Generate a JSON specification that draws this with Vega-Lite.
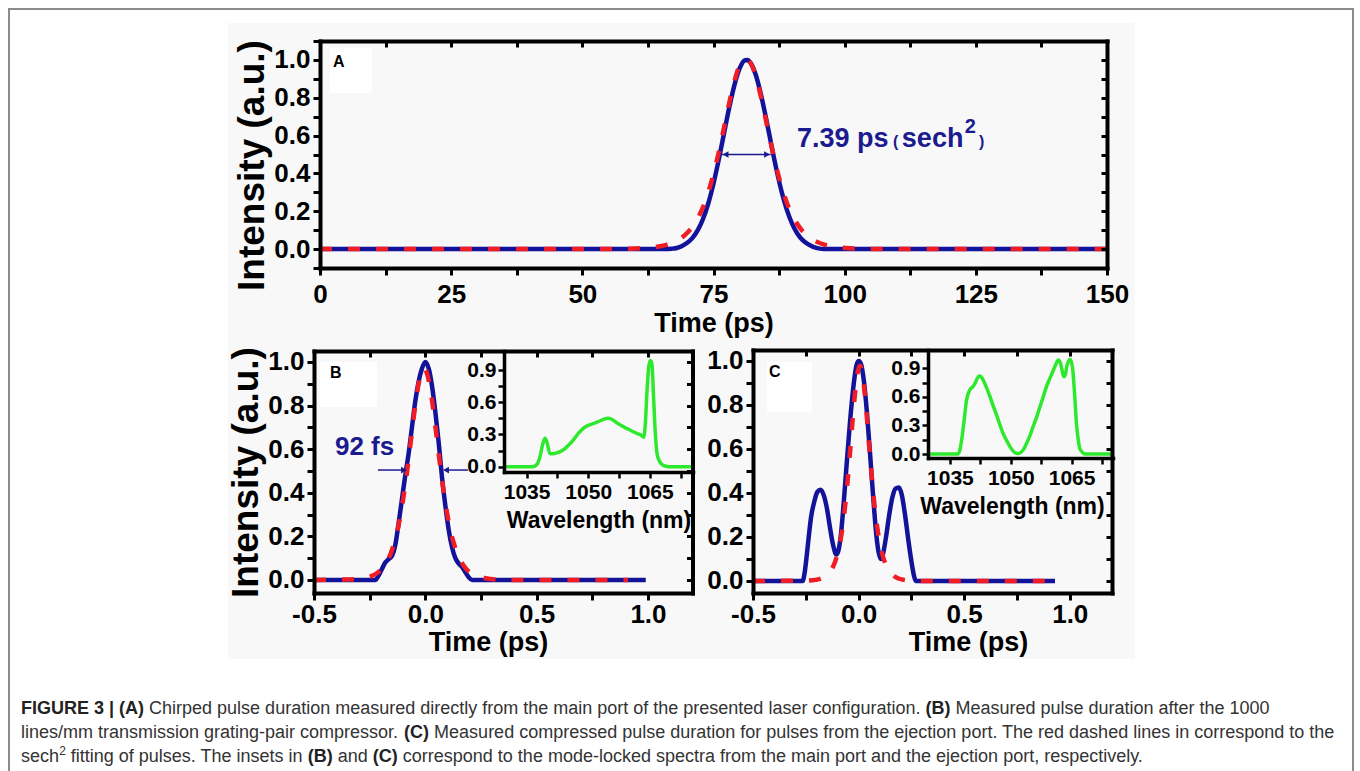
{
"$schema": "https://vega.github.io/schema/vega-lite/v6.json",
"width": 1360, "height": 771, "autosize": "none", "padding": 0,
"background": "white",
"data": {"values": [{}]},
"config": {
 "view": {"stroke": null},
 "text": {"font": "Liberation Sans"},
 "axis": {"labelFont": "Liberation Sans", "titleFont": "Liberation Sans", "labelFontWeight": "bold", "titleFontWeight": "bold", "labelColor": "#000", "titleColor": "#000", "domainColor": "#000", "tickColor": "#000", "grid": false, "labelFlush": false, "labelOverlap": false, "domainCap": "square"}
},
"datasets": {
 "pulseA": [
  {"t":0,"I":0,"c":"m"},{"t":20,"I":0,"c":"m"},{"t":40,"I":0,"c":"m"},{"t":60,"I":0,"c":"m"},{"t":66,"I":0,"c":"m"},{"t":67,"I":0.002,"c":"m"},{"t":68,"I":0.006,"c":"m"},{"t":69,"I":0.016,"c":"m"},{"t":70,"I":0.033,"c":"m"},{"t":71,"I":0.059,"c":"m"},{"t":72,"I":0.1,"c":"m"},{"t":73,"I":0.159,"c":"m"},{"t":74,"I":0.241,"c":"m"},{"t":75,"I":0.347,"c":"m"},{"t":76,"I":0.473,"c":"m"},{"t":77,"I":0.611,"c":"m"},{"t":78,"I":0.748,"c":"m"},{"t":79,"I":0.868,"c":"m"},{"t":80,"I":0.956,"c":"m"},{"t":81,"I":0.998,"c":"m"},{"t":81.5,"I":0.999,"c":"m"},{"t":82,"I":0.987,"c":"m"},{"t":83,"I":0.926,"c":"m"},{"t":84,"I":0.823,"c":"m"},{"t":85,"I":0.694,"c":"m"},{"t":86,"I":0.555,"c":"m"},{"t":87,"I":0.42,"c":"m"},{"t":88,"I":0.302,"c":"m"},{"t":89,"I":0.206,"c":"m"},{"t":90,"I":0.133,"c":"m"},{"t":91,"I":0.081,"c":"m"},{"t":92,"I":0.047,"c":"m"},{"t":93,"I":0.026,"c":"m"},{"t":94,"I":0.012,"c":"m"},{"t":95,"I":0.004,"c":"m"},{"t":96,"I":0,"c":"m"},{"t":110,"I":0,"c":"m"},{"t":130,"I":0,"c":"m"},{"t":150,"I":0,"c":"m"},
  {"t":0,"I":0,"c":"f"},{"t":20,"I":0,"c":"f"},{"t":40,"I":0,"c":"f"},{"t":55,"I":0,"c":"f"},{"t":57,"I":0.001,"c":"f"},{"t":59,"I":0.002,"c":"f"},{"t":61,"I":0.004,"c":"f"},{"t":63,"I":0.008,"c":"f"},{"t":65,"I":0.016,"c":"f"},{"t":66,"I":0.022,"c":"f"},{"t":67,"I":0.031,"c":"f"},{"t":68,"I":0.044,"c":"f"},{"t":69,"I":0.061,"c":"f"},{"t":70,"I":0.086,"c":"f"},{"t":71,"I":0.119,"c":"f"},{"t":72,"I":0.164,"c":"f"},{"t":73,"I":0.222,"c":"f"},{"t":74,"I":0.301,"c":"f"},{"t":75,"I":0.398,"c":"f"},{"t":76,"I":0.512,"c":"f"},{"t":77,"I":0.641,"c":"f"},{"t":78,"I":0.773,"c":"f"},{"t":79,"I":0.889,"c":"f"},{"t":80,"I":0.971,"c":"f"},{"t":81.3,"I":1.0,"c":"f"},{"t":82,"I":0.986,"c":"f"},{"t":83,"I":0.919,"c":"f"},{"t":84,"I":0.81,"c":"f"},{"t":85,"I":0.681,"c":"f"},{"t":86,"I":0.55,"c":"f"},{"t":87,"I":0.431,"c":"f"},{"t":88,"I":0.328,"c":"f"},{"t":89,"I":0.244,"c":"f"},{"t":90,"I":0.179,"c":"f"},{"t":91,"I":0.131,"c":"f"},{"t":92,"I":0.094,"c":"f"},{"t":93,"I":0.068,"c":"f"},{"t":94,"I":0.048,"c":"f"},{"t":95,"I":0.035,"c":"f"},{"t":96,"I":0.025,"c":"f"},{"t":97,"I":0.018,"c":"f"},{"t":99,"I":0.009,"c":"f"},{"t":101,"I":0.004,"c":"f"},{"t":103,"I":0.002,"c":"f"},{"t":106,"I":0,"c":"f"},{"t":130,"I":0,"c":"f"},{"t":150,"I":0,"c":"f"}
 ],
 "pulseB": [
  {"t":-0.5,"I":0,"c":"m"},{"t":-0.3,"I":0,"c":"m"},{"t":-0.225,"I":0,"c":"m"},{"t":-0.21,"I":0.02,"c":"m"},{"t":-0.195,"I":0.05,"c":"m"},{"t":-0.18,"I":0.08,"c":"m"},{"t":-0.165,"I":0.095,"c":"m"},{"t":-0.15,"I":0.11,"c":"m"},{"t":-0.135,"I":0.16,"c":"m"},{"t":-0.12,"I":0.26,"c":"m"},{"t":-0.105,"I":0.37,"c":"m"},{"t":-0.09,"I":0.48,"c":"m"},{"t":-0.075,"I":0.58,"c":"m"},{"t":-0.06,"I":0.7,"c":"m"},{"t":-0.045,"I":0.82,"c":"m"},{"t":-0.03,"I":0.91,"c":"m"},{"t":-0.015,"I":0.97,"c":"m"},{"t":0,"I":1.0,"c":"m"},{"t":0.015,"I":0.97,"c":"m"},{"t":0.03,"I":0.89,"c":"m"},{"t":0.045,"I":0.77,"c":"m"},{"t":0.06,"I":0.63,"c":"m"},{"t":0.075,"I":0.47,"c":"m"},{"t":0.09,"I":0.34,"c":"m"},{"t":0.105,"I":0.23,"c":"m"},{"t":0.12,"I":0.15,"c":"m"},{"t":0.135,"I":0.1,"c":"m"},{"t":0.15,"I":0.075,"c":"m"},{"t":0.165,"I":0.06,"c":"m"},{"t":0.18,"I":0.035,"c":"m"},{"t":0.195,"I":0.012,"c":"m"},{"t":0.21,"I":0,"c":"m"},{"t":0.5,"I":0,"c":"m"},{"t":0.99,"I":0,"c":"m"},
  {"t":-0.5,"I":0,"c":"f"},{"t":-0.35,"I":0.002,"c":"f"},{"t":-0.306,"I":0.004,"c":"f"},{"t":-0.276,"I":0.0085,"c":"f"},{"t":-0.246,"I":0.0164,"c":"f"},{"t":-0.216,"I":0.032,"c":"f"},{"t":-0.186,"I":0.063,"c":"f"},{"t":-0.156,"I":0.12,"c":"f"},{"t":-0.141,"I":0.165,"c":"f"},{"t":-0.126,"I":0.222,"c":"f"},{"t":-0.111,"I":0.299,"c":"f"},{"t":-0.096,"I":0.394,"c":"f"},{"t":-0.081,"I":0.504,"c":"f"},{"t":-0.066,"I":0.628,"c":"f"},{"t":-0.051,"I":0.755,"c":"f"},{"t":-0.036,"I":0.865,"c":"f"},{"t":-0.021,"I":0.942,"c":"f"},{"t":-0.006,"I":0.97,"c":"f"},{"t":0.009,"I":0.942,"c":"f"},{"t":0.024,"I":0.865,"c":"f"},{"t":0.039,"I":0.755,"c":"f"},{"t":0.054,"I":0.628,"c":"f"},{"t":0.069,"I":0.504,"c":"f"},{"t":0.084,"I":0.394,"c":"f"},{"t":0.099,"I":0.299,"c":"f"},{"t":0.114,"I":0.222,"c":"f"},{"t":0.129,"I":0.165,"c":"f"},{"t":0.144,"I":0.12,"c":"f"},{"t":0.174,"I":0.063,"c":"f"},{"t":0.204,"I":0.032,"c":"f"},{"t":0.234,"I":0.0164,"c":"f"},{"t":0.264,"I":0.0085,"c":"f"},{"t":0.294,"I":0.004,"c":"f"},{"t":0.34,"I":0.0015,"c":"f"},{"t":0.4,"I":0,"c":"f"},{"t":0.91,"I":0,"c":"f"}
 ],
 "pulseC": [
  {"t":-0.5,"I":0,"c":"m"},{"t":-0.265,"I":0,"c":"m"},{"t":-0.255,"I":0.04,"c":"m"},{"t":-0.245,"I":0.12,"c":"m"},{"t":-0.235,"I":0.21,"c":"m"},{"t":-0.225,"I":0.29,"c":"m"},{"t":-0.21,"I":0.36,"c":"m"},{"t":-0.195,"I":0.405,"c":"m"},{"t":-0.18,"I":0.415,"c":"m"},{"t":-0.165,"I":0.39,"c":"m"},{"t":-0.15,"I":0.33,"c":"m"},{"t":-0.135,"I":0.24,"c":"m"},{"t":-0.12,"I":0.16,"c":"m"},{"t":-0.105,"I":0.12,"c":"m"},{"t":-0.095,"I":0.14,"c":"m"},{"t":-0.085,"I":0.2,"c":"m"},{"t":-0.07,"I":0.36,"c":"m"},{"t":-0.055,"I":0.55,"c":"m"},{"t":-0.04,"I":0.73,"c":"m"},{"t":-0.025,"I":0.88,"c":"m"},{"t":-0.01,"I":0.98,"c":"m"},{"t":0,"I":1.0,"c":"m"},{"t":0.01,"I":0.99,"c":"m"},{"t":0.025,"I":0.91,"c":"m"},{"t":0.04,"I":0.76,"c":"m"},{"t":0.055,"I":0.57,"c":"m"},{"t":0.07,"I":0.37,"c":"m"},{"t":0.085,"I":0.2,"c":"m"},{"t":0.095,"I":0.13,"c":"m"},{"t":0.105,"I":0.1,"c":"m"},{"t":0.115,"I":0.12,"c":"m"},{"t":0.13,"I":0.2,"c":"m"},{"t":0.145,"I":0.3,"c":"m"},{"t":0.16,"I":0.38,"c":"m"},{"t":0.175,"I":0.42,"c":"m"},{"t":0.19,"I":0.425,"c":"m"},{"t":0.205,"I":0.39,"c":"m"},{"t":0.22,"I":0.3,"c":"m"},{"t":0.235,"I":0.19,"c":"m"},{"t":0.25,"I":0.09,"c":"m"},{"t":0.262,"I":0.025,"c":"m"},{"t":0.27,"I":0,"c":"m"},{"t":0.5,"I":0,"c":"m"},{"t":0.93,"I":0,"c":"m"},
  {"t":-0.5,"I":0,"c":"f"},{"t":-0.28,"I":0.0005,"c":"f"},{"t":-0.234,"I":0.0018,"c":"f"},{"t":-0.204,"I":0.0048,"c":"f"},{"t":-0.174,"I":0.012,"c":"f"},{"t":-0.144,"I":0.031,"c":"f"},{"t":-0.129,"I":0.05,"c":"f"},{"t":-0.114,"I":0.08,"c":"f"},{"t":-0.099,"I":0.127,"c":"f"},{"t":-0.084,"I":0.195,"c":"f"},{"t":-0.069,"I":0.297,"c":"f"},{"t":-0.054,"I":0.433,"c":"f"},{"t":-0.039,"I":0.603,"c":"f"},{"t":-0.024,"I":0.78,"c":"f"},{"t":-0.009,"I":0.921,"c":"f"},{"t":0.006,"I":0.978,"c":"f"},{"t":0.021,"I":0.921,"c":"f"},{"t":0.036,"I":0.78,"c":"f"},{"t":0.051,"I":0.603,"c":"f"},{"t":0.066,"I":0.433,"c":"f"},{"t":0.081,"I":0.297,"c":"f"},{"t":0.096,"I":0.195,"c":"f"},{"t":0.111,"I":0.127,"c":"f"},{"t":0.126,"I":0.08,"c":"f"},{"t":0.141,"I":0.05,"c":"f"},{"t":0.156,"I":0.031,"c":"f"},{"t":0.186,"I":0.012,"c":"f"},{"t":0.216,"I":0.0048,"c":"f"},{"t":0.246,"I":0.0018,"c":"f"},{"t":0.3,"I":0,"c":"f"},{"t":0.93,"I":0,"c":"f"}
 ],
 "specB": [
  {"w":1029.5,"I":0},{"w":1036.5,"I":0},{"w":1037.5,"I":0.02},{"w":1038.3,"I":0.1},{"w":1039.0,"I":0.22},{"w":1039.5,"I":0.265},{"w":1040.0,"I":0.22},{"w":1040.7,"I":0.12},{"w":1041.5,"I":0.12},{"w":1042.5,"I":0.13},{"w":1043.9,"I":0.155},{"w":1045.2,"I":0.2},{"w":1046.4,"I":0.25},{"w":1047.6,"I":0.31},{"w":1048.8,"I":0.357},{"w":1050,"I":0.385},{"w":1051.2,"I":0.4},{"w":1052.5,"I":0.42},{"w":1053.7,"I":0.44},{"w":1054.9,"I":0.45},{"w":1056,"I":0.435},{"w":1056.9,"I":0.41},{"w":1058,"I":0.385},{"w":1059.3,"I":0.357},{"w":1060.5,"I":0.335},{"w":1061.8,"I":0.31},{"w":1062.5,"I":0.3},{"w":1063,"I":0.29},{"w":1063.5,"I":0.275},{"w":1063.9,"I":0.4},{"w":1064.3,"I":0.7},{"w":1064.7,"I":0.92},{"w":1065.1,"I":0.99},{"w":1065.5,"I":0.96},{"w":1065.9,"I":0.65},{"w":1066.3,"I":0.33},{"w":1066.8,"I":0.11},{"w":1067.5,"I":0.04},{"w":1068.3,"I":0.012},{"w":1069.5,"I":0},{"w":1075.5,"I":0}
 ],
 "specC": [
  {"w":1029.6,"I":0},{"w":1037.0,"I":0},{"w":1037.5,"I":0.05},{"w":1037.9,"I":0.15},{"w":1038.5,"I":0.35},{"w":1039.1,"I":0.567},{"w":1039.9,"I":0.672},{"w":1040.5,"I":0.7},{"w":1041.2,"I":0.742},{"w":1041.7,"I":0.79},{"w":1042.2,"I":0.82},{"w":1042.7,"I":0.81},{"w":1043.2,"I":0.777},{"w":1044,"I":0.7},{"w":1044.9,"I":0.6},{"w":1045.7,"I":0.5},{"w":1046.5,"I":0.41},{"w":1047.3,"I":0.31},{"w":1048.1,"I":0.217},{"w":1049,"I":0.14},{"w":1049.8,"I":0.077},{"w":1050.6,"I":0.03},{"w":1051.4,"I":0.007},{"w":1052,"I":0.005},{"w":1052.7,"I":0.025},{"w":1053.3,"I":0.06},{"w":1053.9,"I":0.112},{"w":1054.7,"I":0.19},{"w":1055.5,"I":0.287},{"w":1056.4,"I":0.39},{"w":1057.2,"I":0.497},{"w":1058,"I":0.6},{"w":1058.8,"I":0.707},{"w":1059.7,"I":0.8},{"w":1060.5,"I":0.88},{"w":1061.2,"I":0.95},{"w":1061.7,"I":0.987},{"w":1062.3,"I":0.95},{"w":1062.7,"I":0.87},{"w":1063.1,"I":0.81},{"w":1063.5,"I":0.84},{"w":1063.8,"I":0.917},{"w":1064.2,"I":0.97},{"w":1064.6,"I":0.994},{"w":1065.2,"I":0.917},{"w":1065.7,"I":0.65},{"w":1066.2,"I":0.32},{"w":1066.6,"I":0.16},{"w":1067,"I":0.06},{"w":1067.6,"I":0.02},{"w":1068.3,"I":0},{"w":1075.2,"I":0}
 ]
},
"layer": [
 {
  "layer": [
   {"mark": {"type": "rect", "color": "#f8f8f8"},
    "encoding": {"x": {"datum": 228, "type": "quantitative", "scale": {"domain": [0, 1360], "range": [0, 1360], "nice": false, "zero": false}, "axis": null}, "x2": {"datum": 1135}, "y": {"datum": 23, "type": "quantitative", "scale": {"domain": [0, 771], "range": [0, 771], "nice": false, "zero": false}, "axis": null}, "y2": {"datum": 659}}},
   {"mark": {"type": "rect", "filled": false, "color": "#8c8c8c", "strokeWidth": 2},
    "encoding": {"x": {"datum": 9, "type": "quantitative", "axis": null}, "x2": {"datum": 1353}, "y": {"datum": 9, "type": "quantitative", "axis": null}, "y2": {"datum": 800}}},
   {"mark": {"type": "text", "text": "FIGURE 3 | (A)", "align": "left", "baseline": "alphabetic", "fontSize": 18, "fontWeight": "bold", "color": "#222"}, "encoding": {"x": {"datum": 21, "type": "quantitative", "axis": null}, "y": {"datum": 714, "type": "quantitative", "axis": null}}},
   {"mark": {"type": "text", "text": "Chirped pulse duration measured directly from the main port of the presented laser configuration.", "align": "left", "baseline": "alphabetic", "fontSize": 18, "color": "#333"}, "encoding": {"x": {"datum": 149.05, "type": "quantitative", "axis": null}, "y": {"datum": 714, "type": "quantitative", "axis": null}}},
   {"mark": {"type": "text", "text": "(B)", "align": "left", "baseline": "alphabetic", "fontSize": 18, "fontWeight": "bold", "color": "#222"}, "encoding": {"x": {"datum": 925.4, "type": "quantitative", "axis": null}, "y": {"datum": 714, "type": "quantitative", "axis": null}}},
   {"mark": {"type": "text", "text": "Measured pulse duration after the 1000", "align": "left", "baseline": "alphabetic", "fontSize": 18, "color": "#333"}, "encoding": {"x": {"datum": 955.4, "type": "quantitative", "axis": null}, "y": {"datum": 714, "type": "quantitative", "axis": null}}},
   {"mark": {"type": "text", "text": "lines/mm transmission grating-pair compressor.", "align": "left", "baseline": "alphabetic", "fontSize": 18, "color": "#333"}, "encoding": {"x": {"datum": 21, "type": "quantitative", "axis": null}, "y": {"datum": 738, "type": "quantitative", "axis": null}}},
   {"mark": {"type": "text", "text": "(C)", "align": "left", "baseline": "alphabetic", "fontSize": 18, "fontWeight": "bold", "color": "#222"}, "encoding": {"x": {"datum": 404.1, "type": "quantitative", "axis": null}, "y": {"datum": 738, "type": "quantitative", "axis": null}}},
   {"mark": {"type": "text", "text": "Measured compressed pulse duration for pulses from the ejection port. The red dashed lines in correspond to the", "align": "left", "baseline": "alphabetic", "fontSize": 18, "color": "#333"}, "encoding": {"x": {"datum": 434.1, "type": "quantitative", "axis": null}, "y": {"datum": 738, "type": "quantitative", "axis": null}}},
   {"mark": {"type": "text", "text": "sech", "align": "left", "baseline": "alphabetic", "fontSize": 18, "color": "#333"}, "encoding": {"x": {"datum": 21, "type": "quantitative", "axis": null}, "y": {"datum": 762, "type": "quantitative", "axis": null}}},
   {"mark": {"type": "text", "text": "2", "align": "left", "baseline": "alphabetic", "fontSize": 12, "color": "#333"}, "encoding": {"x": {"datum": 59.2, "type": "quantitative", "axis": null}, "y": {"datum": 755, "type": "quantitative", "axis": null}}},
   {"mark": {"type": "text", "text": "fitting of pulses. The insets in", "align": "left", "baseline": "alphabetic", "fontSize": 18, "color": "#333"}, "encoding": {"x": {"datum": 70.7, "type": "quantitative", "axis": null}, "y": {"datum": 762, "type": "quantitative", "axis": null}}},
   {"mark": {"type": "text", "text": "(B)", "align": "left", "baseline": "alphabetic", "fontSize": 18, "fontWeight": "bold", "color": "#222"}, "encoding": {"x": {"datum": 307.8, "type": "quantitative", "axis": null}, "y": {"datum": 762, "type": "quantitative", "axis": null}}},
   {"mark": {"type": "text", "text": "and", "align": "left", "baseline": "alphabetic", "fontSize": 18, "color": "#333"}, "encoding": {"x": {"datum": 337.8, "type": "quantitative", "axis": null}, "y": {"datum": 762, "type": "quantitative", "axis": null}}},
   {"mark": {"type": "text", "text": "(C)", "align": "left", "baseline": "alphabetic", "fontSize": 18, "fontWeight": "bold", "color": "#222"}, "encoding": {"x": {"datum": 372.8, "type": "quantitative", "axis": null}, "y": {"datum": 762, "type": "quantitative", "axis": null}}},
   {"mark": {"type": "text", "text": "correspond to the mode-locked spectra from the main port and the ejection port, respectively.", "align": "left", "baseline": "alphabetic", "fontSize": 18, "color": "#333"}, "encoding": {"x": {"datum": 402.8, "type": "quantitative", "axis": null}, "y": {"datum": 762, "type": "quantitative", "axis": null}}}
  ]
 },
 {
  "layer": [
   {"data": {"name": "pulseA"}, "transform": [{"filter": "datum.c == 'm'"}],
    "mark": {"type": "line", "color": "#13139a", "strokeWidth": 4.5, "interpolate": "monotone"},
    "encoding": {
     "x": {"field": "t", "type": "quantitative", "scale": {"domain": [0, 150], "range": [320, 1107], "nice": false, "zero": false},
       "axis": {"zindex": 1, "orient": "bottom", "offset": -503, "values": [0,12.5,25,37.5,50,62.5,75,87.5,100,112.5,125,137.5,150], "format": "d", "labelExpr": "datum.value % 25 == 0 ? datum.label : ''", "labelFontSize": 26, "labelPadding": 6, "tickSize": 7, "tickWidth": 3, "domainWidth": 4, "title": "Time (ps)", "titleFontSize": 27, "titlePadding": 3}},
     "y": {"field": "I", "type": "quantitative", "scale": {"domain": [-0.1, 1.1], "range": [268, 41], "nice": false, "zero": false},
       "axis": {"zindex": 1, "orient": "left", "offset": -320, "values": [-0.1,0,0.1,0.2,0.3,0.4,0.5,0.6,0.7,0.8,0.9,1.0,1.1], "labelExpr": "datum.value >= -0.001 && datum.value <= 1.001 && round(datum.value*10) % 2 == 0 ? format(datum.value, '.1f') : ''", "labelFontSize": 26, "labelPadding": 3, "tickSize": 7, "tickWidth": 3, "domainWidth": 4, "title": "Intensity (a.u.)", "titleFontSize": 37, "titlePadding": 2, "titleY": 165}}
    }},
   {"data": {"name": "pulseA"}, "transform": [{"filter": "datum.c == 'f'"}],
    "mark": {"type": "line", "color": "#f21d24", "strokeWidth": 4.5, "strokeDash": [12, 16], "interpolate": "monotone"},
    "encoding": {"x": {"field": "t", "type": "quantitative", "axis": null}, "y": {"field": "I", "type": "quantitative", "axis": null}}},
   {"data": {"name": "pulseA"}, "mark": {"type": "point", "opacity": 0},
    "encoding": {
     "x": {"field": "t", "type": "quantitative", "axis": {"zindex": 1, "orient": "top", "offset": -41, "values": [12.5,25,37.5,50,62.5,75,87.5,100,112.5,125,137.5], "labels": false, "tickSize": -6, "tickWidth": 3, "domainWidth": 4, "title": null}},
     "y": {"field": "I", "type": "quantitative", "axis": {"zindex": 1, "orient": "right", "offset": -253, "values": [0,0.1,0.2,0.3,0.4,0.5,0.6,0.7,0.8,0.9,1.0], "labels": false, "tickSize": -6, "tickWidth": 3, "domainWidth": 4, "title": null}}
    }},
   {"mark": {"type": "rect", "color": "white"}, "encoding": {"x": {"datum": 1.9, "type": "quantitative", "axis": null}, "x2": {"datum": 9.9}, "y": {"datum": 1.063, "type": "quantitative", "axis": null}, "y2": {"datum": 0.825}}},
   {"mark": {"type": "text", "text": "A", "align": "left", "baseline": "middle", "fontSize": 16, "fontWeight": "bold", "color": "black"}, "encoding": {"x": {"datum": 2.5, "type": "quantitative", "axis": null}, "y": {"datum": 0.989, "type": "quantitative", "axis": null}}},
   {"mark": {"type": "rule", "color": "#1b1b8f", "strokeWidth": 1.5}, "encoding": {"x": {"datum": 76.6, "type": "quantitative", "axis": null}, "x2": {"datum": 85.9}, "y": {"datum": 0.5, "type": "quantitative", "axis": null}}},
   {"mark": {"type": "point", "shape": "triangle-left", "filled": true, "size": 45, "color": "#1b1b8f", "opacity": 1}, "encoding": {"x": {"datum": 77.3, "type": "quantitative", "axis": null}, "y": {"datum": 0.5, "type": "quantitative", "axis": null}}},
   {"mark": {"type": "point", "shape": "triangle-right", "filled": true, "size": 45, "color": "#1b1b8f", "opacity": 1}, "encoding": {"x": {"datum": 85.2, "type": "quantitative", "axis": null}, "y": {"datum": 0.5, "type": "quantitative", "axis": null}}},
   {"mark": {"type": "text", "text": "7.39 ps", "align": "left", "baseline": "alphabetic", "fontSize": 27, "fontWeight": "bold", "color": "#1b1b8f"}, "encoding": {"x": {"datum": 90.9, "type": "quantitative", "axis": null}, "y": {"datum": 0.539, "type": "quantitative", "axis": null}}},
   {"mark": {"type": "text", "text": "(", "align": "left", "baseline": "alphabetic", "fontSize": 16, "fontWeight": "bold", "color": "#1b1b8f"}, "encoding": {"x": {"datum": 109.2, "type": "quantitative", "axis": null}, "y": {"datum": 0.539, "type": "quantitative", "axis": null}}},
   {"mark": {"type": "text", "text": "sech", "align": "left", "baseline": "alphabetic", "fontSize": 27, "fontWeight": "bold", "color": "#1b1b8f"}, "encoding": {"x": {"datum": 110.9, "type": "quantitative", "axis": null}, "y": {"datum": 0.539, "type": "quantitative", "axis": null}}},
   {"mark": {"type": "text", "text": "2", "align": "left", "baseline": "alphabetic", "fontSize": 20, "fontWeight": "bold", "color": "#1b1b8f"}, "encoding": {"x": {"datum": 122.9, "type": "quantitative", "axis": null}, "y": {"datum": 0.613, "type": "quantitative", "axis": null}}},
   {"mark": {"type": "text", "text": ")", "align": "left", "baseline": "alphabetic", "fontSize": 16, "fontWeight": "bold", "color": "#1b1b8f"}, "encoding": {"x": {"datum": 125.6, "type": "quantitative", "axis": null}, "y": {"datum": 0.539, "type": "quantitative", "axis": null}}}
  ],
  "resolve": {"axis": {"x": "independent", "y": "independent"}}
 },
 {
  "layer": [
   {"data": {"name": "pulseB"}, "transform": [{"filter": "datum.c == 'm'"}],
    "mark": {"type": "line", "color": "#13139a", "strokeWidth": 4.5, "interpolate": "monotone"},
    "encoding": {
     "x": {"field": "t", "type": "quantitative", "scale": {"domain": [-0.5, 1.2], "range": [314, 692.5], "nice": false, "zero": false},
       "axis": {"zindex": 1, "orient": "bottom", "offset": -178, "values": [-0.5,-0.25,0,0.25,0.5,0.75,1.0], "labelExpr": "round(datum.value*100) % 50 == 0 ? replace(format(datum.value, '.1f'), '−', '-') : ''", "labelFontSize": 26, "labelPadding": 1, "tickSize": 7, "tickWidth": 3, "domainWidth": 4, "title": "Time (ps)", "titleFontSize": 27, "titlePadding": 2, "titleX": 488}},
     "y": {"field": "I", "type": "quantitative", "scale": {"domain": [-0.06, 1.05], "range": [593, 351], "nice": false, "zero": false},
       "axis": {"zindex": 1, "orient": "left", "offset": -314, "values": [0,0.1,0.2,0.3,0.4,0.5,0.6,0.7,0.8,0.9,1.0], "labelExpr": "round(datum.value*10) % 2 == 0 ? format(datum.value, '.1f') : ''", "labelFontSize": 26, "labelPadding": 3, "tickSize": 7, "tickWidth": 3, "domainWidth": 4, "title": "Intensity (a.u.)", "titleFontSize": 37, "titlePadding": 2}}
    }},
   {"data": {"name": "pulseB"}, "transform": [{"filter": "datum.c == 'f'"}],
    "mark": {"type": "line", "color": "#f21d24", "strokeWidth": 4.5, "strokeDash": [12, 16], "interpolate": "monotone"},
    "encoding": {"x": {"field": "t", "type": "quantitative", "axis": null}, "y": {"field": "I", "type": "quantitative", "axis": null}}},
   {"data": {"name": "pulseB"}, "mark": {"type": "point", "opacity": 0},
    "encoding": {
     "x": {"field": "t", "type": "quantitative", "axis": {"zindex": 1, "orient": "top", "offset": -351, "values": [-0.25,0,0.25,0.5,0.75,1.0], "labels": false, "tickSize": -6, "tickWidth": 3, "domainWidth": 4, "title": null}},
     "y": {"field": "I", "type": "quantitative", "axis": {"zindex": 1, "orient": "right", "offset": -667.5, "values": [0,0.1,0.2,0.3,0.4,0.5,0.6,0.7,0.8,0.9,1.0], "labels": false, "tickSize": -6, "tickWidth": 3, "domainWidth": 4, "title": null}}
    }},
   {"mark": {"type": "rect", "color": "white"}, "encoding": {"x": {"datum": -0.473, "type": "quantitative", "axis": null}, "x2": {"datum": -0.217}, "y": {"datum": 0.9996, "type": "quantitative", "axis": null}, "y2": {"datum": 0.793}}},
   {"mark": {"type": "text", "text": "B", "align": "left", "baseline": "middle", "fontSize": 16, "fontWeight": "bold", "color": "black"}, "encoding": {"x": {"datum": -0.428, "type": "quantitative", "axis": null}, "y": {"datum": 0.951, "type": "quantitative", "axis": null}}},
   {"mark": {"type": "text", "text": "92 fs", "align": "left", "baseline": "alphabetic", "fontSize": 26, "fontWeight": "bold", "color": "#1b1b8f"}, "encoding": {"x": {"datum": -0.406, "type": "quantitative", "axis": null}, "y": {"datum": 0.573, "type": "quantitative", "axis": null}}},
   {"mark": {"type": "rule", "color": "#1b1b8f", "strokeWidth": 1.5}, "encoding": {"x": {"datum": -0.213, "type": "quantitative", "axis": null}, "x2": {"datum": -0.09}, "y": {"datum": 0.504, "type": "quantitative", "axis": null}}},
   {"mark": {"type": "point", "shape": "triangle-right", "filled": true, "size": 45, "color": "#1b1b8f", "opacity": 1}, "encoding": {"x": {"datum": -0.096, "type": "quantitative", "axis": null}, "y": {"datum": 0.504, "type": "quantitative", "axis": null}}},
   {"mark": {"type": "rule", "color": "#1b1b8f", "strokeWidth": 1.5}, "encoding": {"x": {"datum": 0.087, "type": "quantitative", "axis": null}, "x2": {"datum": 0.1915}, "y": {"datum": 0.504, "type": "quantitative", "axis": null}}},
   {"mark": {"type": "point", "shape": "triangle-left", "filled": true, "size": 45, "color": "#1b1b8f", "opacity": 1}, "encoding": {"x": {"datum": 0.093, "type": "quantitative", "axis": null}, "y": {"datum": 0.504, "type": "quantitative", "axis": null}}}
  ],
  "resolve": {"axis": {"x": "independent", "y": "independent"}}
 },
 {
  "data": {"name": "specB"},
  "mark": {"type": "line", "color": "#2ee82e", "strokeWidth": 3.5, "interpolate": "monotone"},
  "encoding": {
   "x": {"field": "w", "type": "quantitative", "scale": {"domain": [1029.5, 1075.5], "range": [504, 693], "nice": false, "zero": false},
     "axis": {"zindex": 1, "orient": "bottom", "offset": -299, "values": [1035,1042.5,1050,1057.5,1065,1072.5], "format": "d", "labelExpr": "datum.value % 15 == 0 ? datum.label : ''", "labelFontSize": 21, "labelPadding": 3, "tickSize": 6, "tickWidth": 2.5, "domainWidth": 3.5, "title": "Wavelength (nm)", "titleFontSize": 23, "titlePadding": 7}},
   "y": {"field": "I", "type": "quantitative", "scale": {"domain": [-0.05, 1.078], "range": [472, 351], "nice": false, "zero": false},
     "axis": {"zindex": 1, "orient": "left", "offset": -504, "values": [0,0.15,0.3,0.45,0.6,0.75,0.9], "labelExpr": "round(datum.value*100) % 30 == 0 ? format(datum.value, '.1f') : ''", "labelFontSize": 21, "labelPadding": 2, "tickSize": 6, "tickWidth": 2.5, "domainWidth": 3.5, "title": null}}
  }
 },
 {
  "layer": [
   {"data": {"name": "pulseC"}, "transform": [{"filter": "datum.c == 'm'"}],
    "mark": {"type": "line", "color": "#13139a", "strokeWidth": 4.5, "interpolate": "monotone"},
    "encoding": {
     "x": {"field": "t", "type": "quantitative", "scale": {"domain": [-0.5, 1.2], "range": [753, 1112], "nice": false, "zero": false},
       "axis": {"zindex": 1, "orient": "bottom", "offset": -178, "values": [-0.5,-0.25,0,0.25,0.5,0.75,1.0], "labelExpr": "round(datum.value*100) % 50 == 0 ? replace(format(datum.value, '.1f'), '−', '-') : ''", "labelFontSize": 26, "labelPadding": 1, "tickSize": 7, "tickWidth": 3, "domainWidth": 4, "title": "Time (ps)", "titleFontSize": 27, "titlePadding": 2, "titleX": 968}},
     "y": {"field": "I", "type": "quantitative", "scale": {"domain": [-0.055, 1.05], "range": [593, 350], "nice": false, "zero": false},
       "axis": {"zindex": 1, "orient": "left", "offset": -753, "values": [0,0.1,0.2,0.3,0.4,0.5,0.6,0.7,0.8,0.9,1.0], "labelExpr": "round(datum.value*10) % 2 == 0 ? format(datum.value, '.1f') : ''", "labelFontSize": 26, "labelPadding": 3, "tickSize": 7, "tickWidth": 3, "domainWidth": 4, "title": null}}
    }},
   {"data": {"name": "pulseC"}, "transform": [{"filter": "datum.c == 'f'"}],
    "mark": {"type": "line", "color": "#f21d24", "strokeWidth": 4.5, "strokeDash": [12, 16], "interpolate": "monotone"},
    "encoding": {"x": {"field": "t", "type": "quantitative", "axis": null}, "y": {"field": "I", "type": "quantitative", "axis": null}}},
   {"data": {"name": "pulseC"}, "mark": {"type": "point", "opacity": 0},
    "encoding": {
     "x": {"field": "t", "type": "quantitative", "axis": {"zindex": 1, "orient": "top", "offset": -350, "values": [-0.25,0,0.25,0.5,0.75,1.0], "labels": false, "tickSize": -6, "tickWidth": 3, "domainWidth": 4, "title": null}},
     "y": {"field": "I", "type": "quantitative", "axis": {"zindex": 1, "orient": "right", "offset": -248, "values": [0,0.1,0.2,0.3,0.4,0.5,0.6,0.7,0.8,0.9,1.0], "labels": false, "tickSize": -6, "tickWidth": 3, "domainWidth": 4, "title": null}}
    }},
   {"mark": {"type": "rect", "color": "white"}, "encoding": {"x": {"datum": -0.434, "type": "quantitative", "axis": null}, "x2": {"datum": -0.221}, "y": {"datum": 0.995, "type": "quantitative", "axis": null}, "y2": {"datum": 0.768}}},
   {"mark": {"type": "text", "text": "C", "align": "left", "baseline": "middle", "fontSize": 16, "fontWeight": "bold", "color": "black"}, "encoding": {"x": {"datum": -0.424, "type": "quantitative", "axis": null}, "y": {"datum": 0.948, "type": "quantitative", "axis": null}}}
  ],
  "resolve": {"axis": {"x": "independent", "y": "independent"}}
 },
 {
  "data": {"name": "specC"},
  "mark": {"type": "line", "color": "#2ee82e", "strokeWidth": 3.5, "interpolate": "monotone"},
  "encoding": {
   "x": {"field": "w", "type": "quantitative", "scale": {"domain": [1029.6, 1075.2], "range": [928, 1113], "nice": false, "zero": false},
     "axis": {"zindex": 1, "orient": "bottom", "offset": -313, "values": [1035,1042.5,1050,1057.5,1065,1072.5], "format": "d", "labelExpr": "datum.value % 15 == 0 ? datum.label : ''", "labelFontSize": 21, "labelPadding": 3, "tickSize": 6, "tickWidth": 2.5, "domainWidth": 3.5, "title": "Wavelength (nm)", "titleFontSize": 23, "titlePadding": 7, "titleX": 1012}},
   "y": {"field": "I", "type": "quantitative", "scale": {"domain": [-0.042, 1.092], "range": [458, 350], "nice": false, "zero": false},
     "axis": {"zindex": 1, "orient": "left", "offset": -928, "values": [0,0.15,0.3,0.45,0.6,0.75,0.9], "labelExpr": "round(datum.value*100) % 30 == 0 ? format(datum.value, '.1f') : ''", "labelFontSize": 21, "labelPadding": 2, "tickSize": 6, "tickWidth": 2.5, "domainWidth": 3.5, "title": null}}
  }
 }
],
"resolve": {"scale": {"x": "independent", "y": "independent"}}
}
